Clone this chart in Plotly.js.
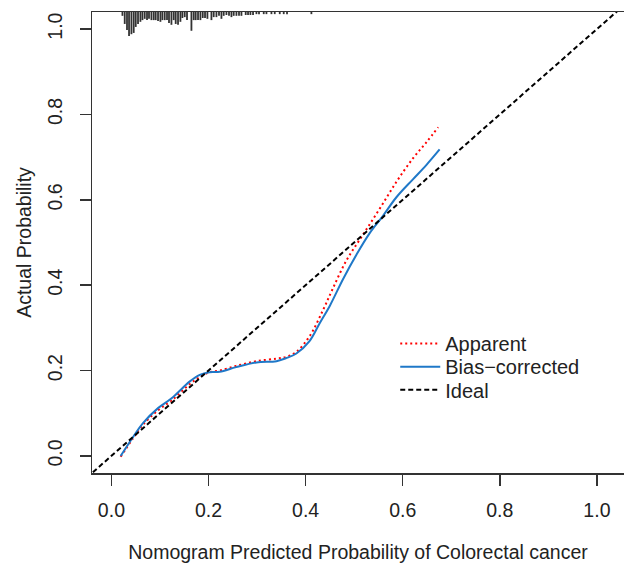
<!DOCTYPE html>
<html>
<head>
<meta charset="utf-8">
<script src="https://cdn.plot.ly/plotly-3.0.1.min.js"></script>
<style>html,body{margin:0;padding:0;background:#fff;}#chart{width:624px;height:566px;}</style>
</head>
<body>
<div id="chart"></div>
<script>
// Apparent calibration curve (red dotted)
const apparentX = [0.019, 0.045, 0.065, 0.096, 0.124, 0.161, 0.182, 0.202, 0.223, 0.257, 0.299, 0.340, 0.360, 0.381, 0.408, 0.436, 0.456, 0.484, 0.518, 0.553, 0.587, 0.621, 0.649, 0.673];
const apparentY = [-0.002, 0.042, 0.073, 0.107, 0.130, 0.168, 0.185, 0.196, 0.200, 0.211, 0.222, 0.228, 0.232, 0.244, 0.280, 0.342, 0.392, 0.458, 0.518, 0.580, 0.642, 0.697, 0.735, 0.770];
// Bias-corrected calibration curve (blue solid)
const biasX = [0.019, 0.045, 0.065, 0.096, 0.124, 0.161, 0.182, 0.202, 0.223, 0.257, 0.299, 0.340, 0.360, 0.381, 0.408, 0.429, 0.450, 0.477, 0.505, 0.532, 0.559, 0.587, 0.621, 0.649, 0.676];
const biasY = [0.000, 0.045, 0.077, 0.112, 0.135, 0.174, 0.190, 0.196, 0.197, 0.208, 0.219, 0.222, 0.229, 0.240, 0.269, 0.311, 0.352, 0.414, 0.472, 0.522, 0.562, 0.606, 0.648, 0.682, 0.718];
// Ideal line
const idealX = [-0.1, 1.2];
const idealY = [-0.1, 1.2];
// Distribution of predicted probabilities (spikes hanging from the top)
const rugX = [0.0227, 0.0274, 0.0321, 0.0363, 0.0412, 0.0459, 0.0501, 0.0548, 0.0597, 0.0639, 0.0686, 0.0733, 0.0774, 0.0824, 0.0871, 0.0912, 0.0960, 0.1009, 0.1050, 0.1098, 0.1145, 0.1186, 0.1236, 0.1283, 0.1324, 0.1372, 0.1421, 0.1462, 0.1510, 0.1557, 0.1648, 0.1695, 0.1736, 0.1784, 0.1833, 0.1881, 0.1928, 0.1977, 0.2060, 0.2107, 0.2163, 0.2216, 0.2266, 0.2313, 0.2369, 0.2422, 0.2472, 0.2519, 0.2575, 0.2628, 0.2678, 0.2766, 0.2814, 0.2863, 0.2917, 0.2987, 0.3040, 0.3137, 0.3193, 0.3296, 0.3364, 0.3467, 0.3549, 0.3617, 0.4119];
const rugH = [0.009, 0.028, 0.042, 0.056, 0.052, 0.049, 0.035, 0.028, 0.023, 0.019, 0.016, 0.019, 0.016, 0.019, 0.019, 0.019, 0.021, 0.023, 0.019, 0.019, 0.019, 0.026, 0.030, 0.019, 0.028, 0.030, 0.023, 0.014, 0.012, 0.019, 0.044, 0.019, 0.019, 0.019, 0.019, 0.014, 0.014, 0.016, 0.019, 0.012, 0.012, 0.009, 0.016, 0.009, 0.007, 0.009, 0.012, 0.009, 0.009, 0.009, 0.009, 0.007, 0.007, 0.007, 0.007, 0.005, 0.005, 0.005, 0.005, 0.005, 0.005, 0.005, 0.005, 0.005, 0.005];
const xTicks = [0, 0.2, 0.4, 0.6, 0.8, 1.0];
const xTickText = ['0.0', '0.2', '0.4', '0.6', '0.8', '1.0'];
const yTicks = [0, 0.2, 0.4, 0.6, 0.8, 1.0];
const yTickText = ['0.0', '0.2', '0.4', '0.6', '0.8', '1.0'];
const seriesNames = ['Apparent', 'Bias\u2212corrected', 'Ideal'];

const yTop = 1.04;
const rx = [], ry = [];
rugX.forEach((x, i) => { rx.push(x, x, null); ry.push(yTop, yTop - rugH[i], null); });

const FONT = 'Liberation Sans, Arial, sans-serif';
const TXT = '#222222';
const traces = [
  {x: rx, y: ry, type: 'scatter', mode: 'lines', line: {color: '#333333', width: 1.8}, showlegend: false, hoverinfo: 'skip'},
  {x: apparentX, y: apparentY, type: 'scatter', mode: 'lines', name: seriesNames[0], legend: 'legend', line: {color: '#ff0000', width: 2, dash: '2px,3px', shape: 'spline'}},
  {x: biasX, y: biasY, type: 'scatter', mode: 'lines', name: seriesNames[1], legend: 'legend2', line: {color: '#1f78c8', width: 2, shape: 'spline'}},
  {x: idealX, y: idealY, type: 'scatter', mode: 'lines', name: seriesNames[2], legend: 'legend3', line: {color: '#000000', width: 2, dash: '5px,3px'}}
];
function leg(y) {
  return {x: 0.57, y: y, xanchor: 'left', yanchor: 'top', bgcolor: 'rgba(0,0,0,0)', borderwidth: 0, itemwidth: 40,
          font: {family: FONT, size: 20, color: TXT}};
}
const layout = {
  width: 624, height: 566,
  margin: {l: 92, r: 0, t: 12, b: 93},
  paper_bgcolor: '#ffffff', plot_bgcolor: '#ffffff',
  font: {family: FONT, size: 19.5, color: TXT},
  showlegend: true,
  legend: leg(0.323), legend2: leg(0.273), legend3: leg(0.223),
  xaxis: {
    range: [-0.04, 1.0558], tickvals: xTicks, ticktext: xTickText,
    showgrid: false, zeroline: false, showline: true, mirror: true, linecolor: '#333333', linewidth: 1.5,
    ticks: 'outside', ticklen: 11, tickwidth: 1.5, tickcolor: '#333333', ticklabelstandoff: 8,
    tickfont: {family: FONT, size: 19.5, color: TXT},
    title: {text: 'Nomogram Predicted Probability of Colorectal cancer', font: {family: FONT, size: 19.5, color: TXT}, standoff: 25}
  },
  yaxis: {
    range: [-0.04, 1.04], tickvals: yTicks, ticktext: yTickText, tickangle: -90,
    showgrid: false, zeroline: false, showline: true, mirror: false, linecolor: '#333333', linewidth: 1.5,
    ticks: 'outside', ticklen: 11, tickwidth: 1.5, tickcolor: '#333333', ticklabelstandoff: 10,
    tickfont: {family: FONT, size: 19.5, color: TXT},
    title: {text: 'Actual Probability', font: {family: FONT, size: 19.5, color: TXT}, standoff: 7}
  }
};
Plotly.newPlot('chart', traces, layout, {displayModeBar: false, staticPlot: true});
</script>
</body>
</html>
